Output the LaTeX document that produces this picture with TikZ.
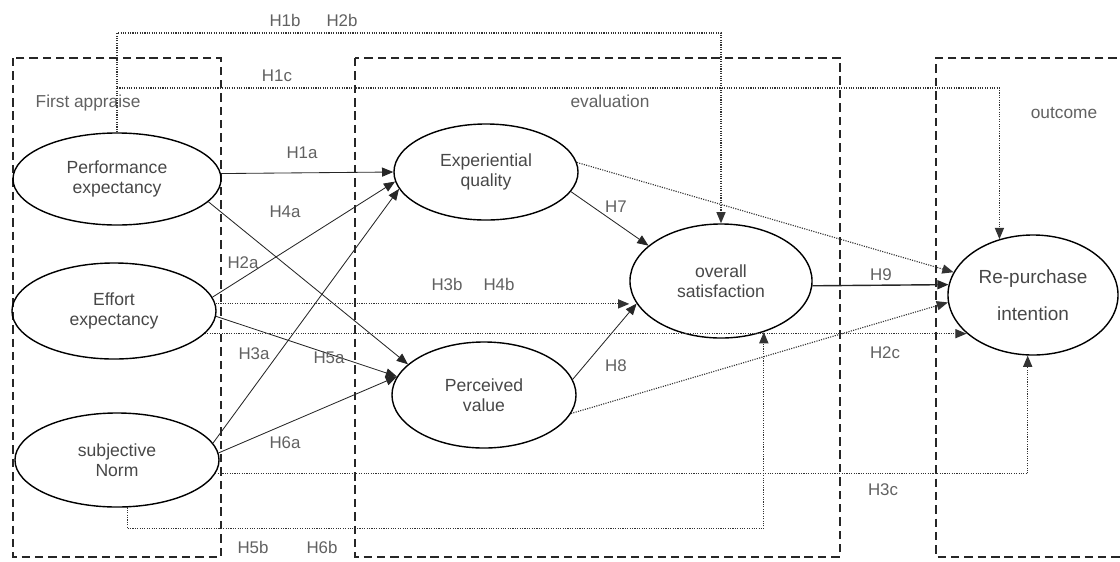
\documentclass[tikz,border=0pt]{standalone}
\usepackage{fontspec}
\setmainfont{Liberation Sans}
\usepackage{xcolor}
\usepackage{tikz}
\usetikzlibrary{shapes.geometric}
\usetikzlibrary{arrows.meta}
\usetikzlibrary{calc}

\begin{document}
\begin{tikzpicture}
  [
    x=0.025cm, y=-0.025cm,
    latent/.style={
       ellipse,
       draw=black,
       line width=1pt,
       inner sep=0pt,
       align=center,
       text=black!72,
       font=\fontsize{12.5}{14}\selectfont
    },
    group/.style={
       draw=black!85,
       line width=1.2pt,
       dash pattern=on 6pt off 3.5pt
    },
    hyp/.style={
       draw=black!85,
       semithick,
       -{Triangle[length=8pt,width=6.5pt]}
    },
    indir/.style={
       draw=black!80,
       line width=0.8pt,
       dash pattern=on 0.8pt off 0.9pt,
       -{Triangle[length=8pt,width=6.5pt]}
    },
    lbl/.style={
       text=black!62,
       font=\fontsize{12}{14}\selectfont,
       inner sep=1pt
    }
  ]
  \useasboundingbox (0,0) rectangle (1120,561);

  \draw [group] (13,58) rectangle (221,557);
  \draw [group] (355,58) rectangle (840,557);
  \draw [group] (1130,58) -- (936,58) -- (936,557) -- (1130,557);

  \node (tFirst) at (34,103)   [lbl, anchor=west, font=\fontsize{12.3}{14}\selectfont] {First appraise};
  \node (tEval)  at (610,101)  [lbl, font=\fontsize{12.3}{14}\selectfont] {evaluation};
  \node (tOut)   at (1064,113) [lbl, font=\fontsize{12.3}{14}\selectfont] {outcome};

  \node (pe) at (117,179)  [latent, minimum width=5.2cm,  minimum height=2.3cm]  {Performance\\expectancy};
  \node (ee) at (114,311)  [latent, minimum width=5.1cm,  minimum height=2.4cm]  {Effort\\expectancy};
  \node (sn) at (117,460)  [latent, minimum width=5.1cm,  minimum height=2.35cm] {subjective\\Norm};
  \node (eq) at (486,172)  [latent, minimum width=4.6cm,  minimum height=2.4cm]  {Experiential\\quality};
  \node (pv) at (484,395)  [latent, minimum width=4.6cm,  minimum height=2.65cm] {Perceived\\value};
  \node (os) at (721,281)  [latent, minimum width=4.55cm, minimum height=2.85cm] {overall\\satisfaction};
  \node (ri) at (1033,295) [latent, minimum width=4.25cm, minimum height=3cm,
                            font=\fontsize{13.5}{16}\selectfont] {Re-purchase\\[10pt]intention};

  \coordinate (hb) at (117,33);
  \coordinate (hc) at (117,88);

  \draw [hyp] (pe.3)   -- (eq.west);
  \draw [hyp] (pe.-14) -- (pv.158);
  \draw [hyp] (ee.8)   -- (eq.186);
  \draw [hyp] (sn.10)  -- (eq.191);
  \draw [hyp] (ee.-3)  -- (pv.168);
  \draw [hyp] (sn.4)   -- (pv.168);
  \draw [hyp] (eq.-13) -- (os.154);
  \draw [hyp] (pv.10)  -- (os.195);
  \draw [hyp, line width=1pt] (os.-3) -- (ri.173);

  \draw [indir] (eq.6)   -- (ri.164);
  \draw [indir] (pv.-12) -- (ri.185);
  \draw [indir] (ee.4)   -- (ee.4 -| os.west);
  \draw [indir] (ee.-14) -- (ee.-14 -| ri.210);
  \draw [indir] (sn.-8)  -| (ri.-95);
  \draw [indir] (sn.-78) -- ++(0,21) -| (os.-50);
  \draw [indir] (pe.north) -- (hb) -| (os.north);
  \draw [indir] (hc) -| (ri.121);

  \node (tH1b) at (285,20)  [lbl] {H1b};
  \node (tH2b) at (342,20)  [lbl] {H2b};
  \node (tH1c) at (277,76)  [lbl] {H1c};
  \node (tH1a) at (302,153) [lbl] {H1a};
  \node (tH4a) at (285,212) [lbl] {H4a};
  \node (tH2a) at (243,263) [lbl] {H2a};
  \node (tH3a) at (254,354) [lbl] {H3a};
  \node (tH5a) at (329,358) [lbl] {H5a};
  \node (tH6a) at (285,443) [lbl] {H6a};
  \node (tH3b) at (447,284) [lbl] {H3b};
  \node (tH4b) at (499,284) [lbl] {H4b};
  \node (tH7)  at (616,207) [lbl] {H7};
  \node (tH8)  at (616,366) [lbl] {H8};
  \node (tH9)  at (881,275) [lbl] {H9};
  \node (tH2c) at (885,353) [lbl] {H2c};
  \node (tH3c) at (883,490) [lbl] {H3c};
  \node (tH5b) at (253,547) [lbl] {H5b};
  \node (tH6b) at (322,547) [lbl] {H6b};
\end{tikzpicture}
\end{document}
